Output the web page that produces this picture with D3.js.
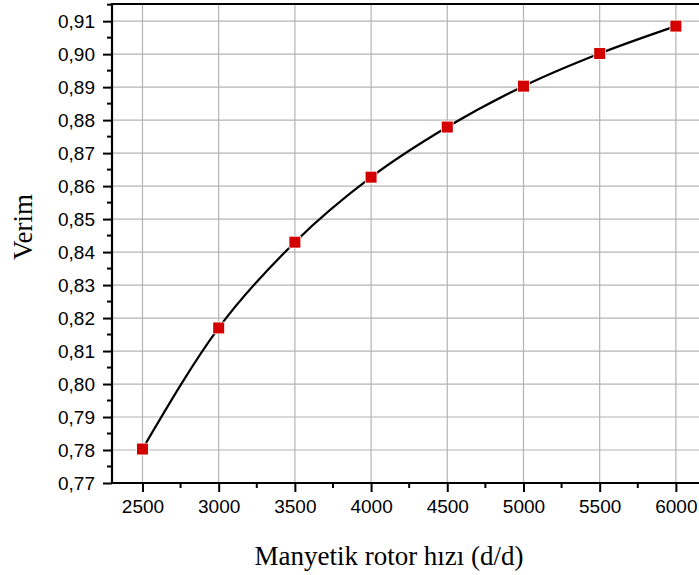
<!DOCTYPE html>
<html>
<head>
<meta charset="utf-8">
<script src="https://cdn.jsdelivr.net/npm/d3@7"></script>
<style>
  body { margin: 0; background: #fff; }
  svg { display: block; }
</style>
</head>
<body>
<div id="chart"></div>
<script>
// rotor speed (d/d) and efficiency
const speeds = [2500, 3000, 3500, 4000, 4500, 5000, 5500, 6000];
const verim = [0.7803, 0.8170, 0.8430, 0.8627, 0.8779, 0.8903, 0.9002, 0.9085];
const xTicks = [2500, 3000, 3500, 4000, 4500, 5000, 5500, 6000];
const yTicks = [0.77, 0.78, 0.79, 0.80, 0.81, 0.82, 0.83, 0.84, 0.85, 0.86, 0.87, 0.88, 0.89, 0.90, 0.91];
const xTitle = 'Manyetik rotor hızı (d/d)';
const yTitle = 'Verim';

const width = 699, height = 575;
const margin = {top: 4, left: 112, bottom: 92};

const svg = d3.select('#chart').append('svg')
  .attr('width', width)
  .attr('height', height);

const x = d3.scaleLinear().domain([2300, 6200]).range([margin.left, margin.left + 3900 * 76.2 / 500]);
const y = d3.scaleLinear().domain([0.77, 0.9152]).range([height - margin.bottom, margin.top]);

const x0 = x.range()[0], x1 = x.range()[1];
const y0 = y.range()[0], y1 = y.range()[1];

// grid
svg.append('g').selectAll('line.gx')
  .data(xTicks).enter().append('line')
  .attr('x1', d => x(d)).attr('x2', d => x(d))
  .attr('y1', y0).attr('y2', y1)
  .attr('stroke', '#b4b4b4').attr('stroke-width', 1.2);

svg.append('g').selectAll('line.gy')
  .data(yTicks.slice(1)).enter().append('line')
  .attr('x1', x0).attr('x2', x1)
  .attr('y1', d => y(d)).attr('y2', d => y(d))
  .attr('stroke', '#b4b4b4').attr('stroke-width', 1.2);

// minor ticks
const xMinor = d3.range(2250, 6200, 500).filter(d => d > 2300);
const yMinor = d3.range(0.775, 0.915, 0.01);

const xAxis = d3.axisBottom(x).tickValues(xTicks).tickSize(9).tickPadding(8).tickFormat(d3.format('d'));
const yAxis = d3.axisLeft(y).tickValues(yTicks).tickSize(9).tickPadding(8).tickFormat(d => d3.format('.2f')(d).replace('.', ','));

const gx = svg.append('g').attr('transform', `translate(0,${y0})`).call(xAxis);
gx.append('g').selectAll('line').data(xMinor).enter().append('line')
  .attr('x1', d => x(d)).attr('x2', d => x(d)).attr('y1', 0).attr('y2', 5)
  .attr('stroke', '#000').attr('stroke-width', 2);

const gy = svg.append('g').attr('transform', `translate(${x0},0)`).call(yAxis);
gy.append('g').selectAll('line').data(yMinor).enter().append('line')
  .attr('y1', d => y(d)).attr('y2', d => y(d)).attr('x1', 0).attr('x2', -5)
  .attr('stroke', '#000').attr('stroke-width', 2);

[gx, gy].forEach(g => {
  g.select('.domain').remove();
  g.selectAll('.tick line').attr('stroke', '#000').attr('stroke-width', 2);
  g.selectAll('.tick text')
    .attr('fill', '#000')
    .style('font-family', '"Liberation Sans", Arial, sans-serif')
    .style('font-size', '19px');
});

// frame (left, bottom, top)
svg.append('path')
  .attr('d', `M${x1},${y1}H${x0}V${y0}H${x1}`)
  .attr('fill', 'none').attr('stroke', '#000').attr('stroke-width', 2.2);

// curve
const line = d3.line()
  .curve(d3.curveMonotoneX)
  .x((d, i) => x(speeds[i]))
  .y(d => y(d));

svg.append('path')
  .datum(verim)
  .attr('d', line)
  .attr('fill', 'none')
  .attr('stroke', '#000')
  .attr('stroke-width', 2.2);

// markers
const ms = 11;
svg.append('g').selectAll('rect')
  .data(verim).enter().append('rect')
  .attr('x', (d, i) => x(speeds[i]) - ms / 2)
  .attr('y', d => y(d) - ms / 2)
  .attr('width', ms).attr('height', ms)
  .attr('fill', '#d40000')
  .attr('stroke', '#fff').attr('stroke-width', 1.5)
  .attr('paint-order', 'stroke');

// titles
svg.append('text')
  .attr('x', 389).attr('y', 565)
  .attr('text-anchor', 'middle')
  .style('font-family', '"Liberation Serif", "Times New Roman", serif')
  .style('font-size', '27px')
  .text(xTitle);

svg.append('text')
  .attr('transform', 'translate(32,227) rotate(-90)')
  .attr('text-anchor', 'middle')
  .style('font-family', '"Liberation Serif", "Times New Roman", serif')
  .style('font-size', '27px')
  .text(yTitle);
</script>
</body>
</html>
